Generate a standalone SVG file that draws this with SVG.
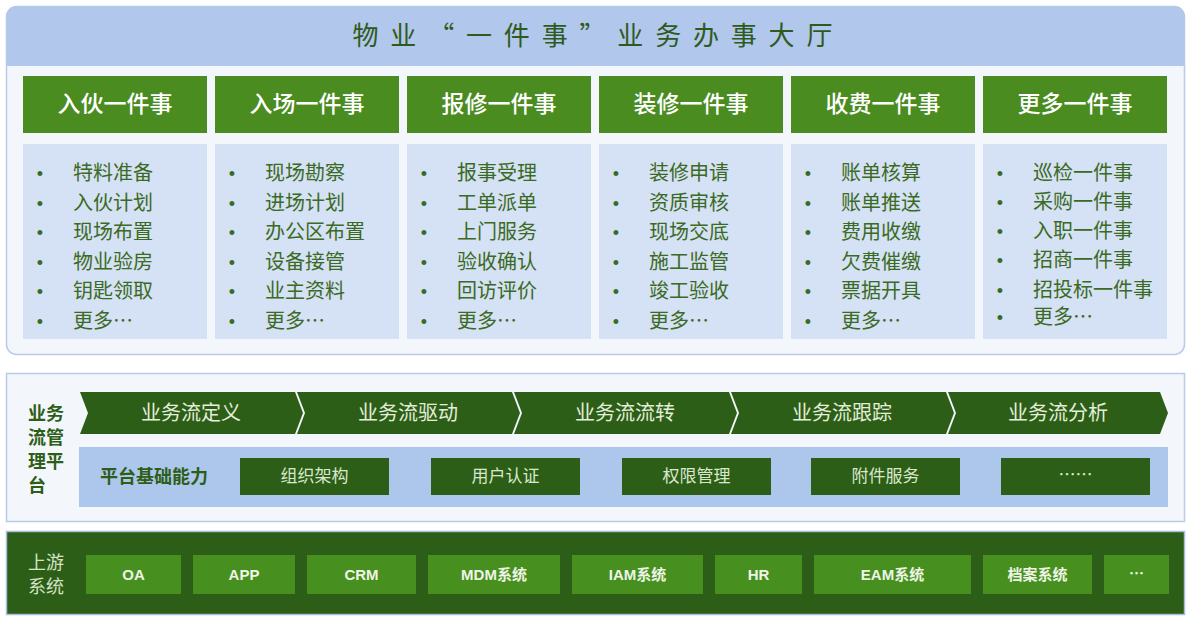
<svg xmlns="http://www.w3.org/2000/svg" width="1192" height="625" viewBox="0 0 1192 625">
<style>
.cjk{font-family:"Noto Sans CJK SC","Liberation Sans",sans-serif}
.lat{font-family:"Liberation Sans","Noto Sans CJK SC",sans-serif}
.hdr{fill:#4b8c21}
.hdrt{fill:#ffffff;font-size:23px;font-weight:500;text-anchor:middle}
.body{fill:#d5e1f5}
.li{fill:#3b6a22;font-size:20px}
.bul{fill:#3b6a22;font-size:18px;text-anchor:middle;font-family:"Liberation Sans",sans-serif}
.chev{fill:#2d5e17}
.chevt{fill:#e3eedb;font-size:20px;text-anchor:middle}
.dk{fill:#2d5e17}
.dkt{fill:#d9e8cc;font-size:17px;text-anchor:middle}
.lg{fill:#47901f}
.lgt{fill:#eef5e6;font-size:15px;font-weight:bold;text-anchor:middle}
.lbl{fill:#2d5e17;font-size:18px;font-weight:bold}
</style>
<rect width="1192" height="625" fill="#ffffff"/>

<g id="hall">
  <rect x="6.5" y="6.5" width="1178" height="348" rx="10" fill="#f3f6fb" stroke="#b9cbe8" stroke-width="1.5"/>
  <path d="M6.5,66 V16.5 A10,10 0 0 1 16.5,6.5 H1174.5 A10,10 0 0 1 1184.5,16.5 V66 Z" fill="#b1c7eb"/>
  <text class="cjk" x="594" y="45" font-size="26" fill="#2f5a1e" text-anchor="middle" letter-spacing="3">物 业 “ 一 件 事 ” 业 务 办 事 大 厅</text>
</g>

<g id="col1">
  <rect class="hdr" x="23" y="76" width="184" height="57"/>
  <text class="cjk hdrt" x="115" y="112">入伙一件事</text>
  <rect class="body" x="23" y="144" width="184" height="195"/>
  <g class="cjk">
    <text class="bul" x="40" y="180">•</text><text class="li" x="73" y="180">特料准备</text>
    <text class="bul" x="40" y="210">•</text><text class="li" x="73" y="210">入伙计划</text>
    <text class="bul" x="40" y="239">•</text><text class="li" x="73" y="239">现场布置</text>
    <text class="bul" x="40" y="269">•</text><text class="li" x="73" y="269">物业验房</text>
    <text class="bul" x="40" y="298">•</text><text class="li" x="73" y="298">钥匙领取</text>
    <text class="bul" x="40" y="328">•</text><text class="li" x="73" y="328">更多…</text>
  </g>
</g>

<g id="col2">
  <rect class="hdr" x="215" y="76" width="184" height="57"/>
  <text class="cjk hdrt" x="307" y="112">入场一件事</text>
  <rect class="body" x="215" y="144" width="184" height="195"/>
  <g class="cjk">
    <text class="bul" x="232" y="180">•</text><text class="li" x="265" y="180">现场勘察</text>
    <text class="bul" x="232" y="210">•</text><text class="li" x="265" y="210">进场计划</text>
    <text class="bul" x="232" y="239">•</text><text class="li" x="265" y="239">办公区布置</text>
    <text class="bul" x="232" y="269">•</text><text class="li" x="265" y="269">设备接管</text>
    <text class="bul" x="232" y="298">•</text><text class="li" x="265" y="298">业主资料</text>
    <text class="bul" x="232" y="328">•</text><text class="li" x="265" y="328">更多…</text>
  </g>
</g>

<g id="col3">
  <rect class="hdr" x="407" y="76" width="184" height="57"/>
  <text class="cjk hdrt" x="499" y="112">报修一件事</text>
  <rect class="body" x="407" y="144" width="184" height="195"/>
  <g class="cjk">
    <text class="bul" x="424" y="180">•</text><text class="li" x="457" y="180">报事受理</text>
    <text class="bul" x="424" y="210">•</text><text class="li" x="457" y="210">工单派单</text>
    <text class="bul" x="424" y="239">•</text><text class="li" x="457" y="239">上门服务</text>
    <text class="bul" x="424" y="269">•</text><text class="li" x="457" y="269">验收确认</text>
    <text class="bul" x="424" y="298">•</text><text class="li" x="457" y="298">回访评价</text>
    <text class="bul" x="424" y="328">•</text><text class="li" x="457" y="328">更多…</text>
  </g>
</g>

<g id="col4">
  <rect class="hdr" x="599" y="76" width="184" height="57"/>
  <text class="cjk hdrt" x="691" y="112">装修一件事</text>
  <rect class="body" x="599" y="144" width="184" height="195"/>
  <g class="cjk">
    <text class="bul" x="616" y="180">•</text><text class="li" x="649" y="180">装修申请</text>
    <text class="bul" x="616" y="210">•</text><text class="li" x="649" y="210">资质审核</text>
    <text class="bul" x="616" y="239">•</text><text class="li" x="649" y="239">现场交底</text>
    <text class="bul" x="616" y="269">•</text><text class="li" x="649" y="269">施工监管</text>
    <text class="bul" x="616" y="298">•</text><text class="li" x="649" y="298">竣工验收</text>
    <text class="bul" x="616" y="328">•</text><text class="li" x="649" y="328">更多…</text>
  </g>
</g>

<g id="col5">
  <rect class="hdr" x="791" y="76" width="184" height="57"/>
  <text class="cjk hdrt" x="883" y="112">收费一件事</text>
  <rect class="body" x="791" y="144" width="184" height="195"/>
  <g class="cjk">
    <text class="bul" x="808" y="180">•</text><text class="li" x="841" y="180">账单核算</text>
    <text class="bul" x="808" y="210">•</text><text class="li" x="841" y="210">账单推送</text>
    <text class="bul" x="808" y="239">•</text><text class="li" x="841" y="239">费用收缴</text>
    <text class="bul" x="808" y="269">•</text><text class="li" x="841" y="269">欠费催缴</text>
    <text class="bul" x="808" y="298">•</text><text class="li" x="841" y="298">票据开具</text>
    <text class="bul" x="808" y="328">•</text><text class="li" x="841" y="328">更多…</text>
  </g>
</g>

<g id="col6">
  <rect class="hdr" x="983" y="76" width="184" height="57"/>
  <text class="cjk hdrt" x="1075" y="112">更多一件事</text>
  <rect class="body" x="983" y="144" width="184" height="195"/>
  <g class="cjk">
    <text class="bul" x="1000" y="180">•</text><text class="li" x="1033" y="180">巡检一件事</text>
    <text class="bul" x="1000" y="209">•</text><text class="li" x="1033" y="209">采购一件事</text>
    <text class="bul" x="1000" y="238">•</text><text class="li" x="1033" y="238">入职一件事</text>
    <text class="bul" x="1000" y="267">•</text><text class="li" x="1033" y="267">招商一件事</text>
    <text class="bul" x="1000" y="297">•</text><text class="li" x="1033" y="297" font-size="19">招投标一件事</text>
    <text class="bul" x="1000" y="324">•</text><text class="li" x="1033" y="324">更多…</text>
  </g>
</g>

<g id="platform">
  <rect x="6.5" y="373.5" width="1178" height="148" fill="#f3f6fb" stroke="#b9cbe8" stroke-width="1.5"/>
  <g class="cjk">
    <text class="lbl" x="28" y="420" font-size="19">业务</text>
    <text class="lbl" x="28" y="444" font-size="19">流管</text>
    <text class="lbl" x="28" y="468" font-size="19">理平</text>
    <text class="lbl" x="28" y="492" font-size="19">台</text>
  </g>
</g>

<g id="flow">
  <g id="flow1"><polygon class="chev" points="80,392 295,392 303,413 295,434 80,434 88,413"/><text class="cjk chevt" x="191" y="420">业务流定义</text></g>
  <g id="flow2"><polygon class="chev" points="297,392 512,392 520,413 512,434 297,434 305,413"/><text class="cjk chevt" x="408" y="420">业务流驱动</text></g>
  <g id="flow3"><polygon class="chev" points="514,392 729,392 737,413 729,434 514,434 522,413"/><text class="cjk chevt" x="625" y="420">业务流流转</text></g>
  <g id="flow4"><polygon class="chev" points="731,392 946,392 954,413 946,434 731,434 739,413"/><text class="cjk chevt" x="842" y="420">业务流跟踪</text></g>
  <g id="flow5"><polygon class="chev" points="948,392 1160,392 1168,413 1160,434 948,434 956,413"/><text class="cjk chevt" x="1058" y="420">业务流分析</text></g>
</g>

<g id="base">
  <rect x="79" y="447" width="1089" height="60" fill="#adc6ec"/>
  <text class="cjk lbl" x="100" y="483">平台基础能力</text>
  <g id="base1"><rect class="dk" x="240" y="458" width="149" height="37"/><text class="cjk dkt" x="314.5" y="482">组织架构</text></g>
  <g id="base2"><rect class="dk" x="431" y="458" width="149" height="37"/><text class="cjk dkt" x="505.5" y="482">用户认证</text></g>
  <g id="base3"><rect class="dk" x="622" y="458" width="149" height="37"/><text class="cjk dkt" x="696.5" y="482">权限管理</text></g>
  <g id="base4"><rect class="dk" x="811" y="458" width="149" height="37"/><text class="cjk dkt" x="885.5" y="482">附件服务</text></g>
  <g id="base5"><rect class="dk" x="1001" y="458" width="149" height="37"/><text class="cjk dkt" x="1075.5" y="481">……</text></g>
</g>

<g id="upstream">
  <rect x="6.5" y="531.5" width="1178" height="83" fill="#2d5e17" stroke="#a9bedf" stroke-width="1.5"/>
  <text class="cjk" x="28" y="569" font-size="18" fill="#d3e4c4">上游</text>
  <text class="cjk" x="28" y="593" font-size="18" fill="#d3e4c4">系统</text>
  <g id="up1"><rect class="lg" x="86" y="555" width="95" height="39"/><text class="lat lgt" x="133.5" y="580">OA</text></g>
  <g id="up2"><rect class="lg" x="193" y="555" width="102" height="39"/><text class="lat lgt" x="244" y="580">APP</text></g>
  <g id="up3"><rect class="lg" x="307" y="555" width="109" height="39"/><text class="lat lgt" x="361.5" y="580">CRM</text></g>
  <g id="up4"><rect class="lg" x="428" y="555" width="132" height="39"/><text class="lat lgt" x="494" y="580">MDM系统</text></g>
  <g id="up5"><rect class="lg" x="572" y="555" width="131" height="39"/><text class="lat lgt" x="637.5" y="580">IAM系统</text></g>
  <g id="up6"><rect class="lg" x="715" y="555" width="87" height="39"/><text class="lat lgt" x="758.5" y="580">HR</text></g>
  <g id="up7"><rect class="lg" x="814" y="555" width="157" height="39"/><text class="lat lgt" x="892.5" y="580">EAM系统</text></g>
  <g id="up8"><rect class="lg" x="983" y="555" width="109" height="39"/><text class="cjk lgt" x="1037.5" y="580">档案系统</text></g>
  <g id="up9"><rect class="lg" x="1104" y="555" width="65" height="39"/><text class="cjk lgt" x="1136.5" y="579">…</text></g>
</g>
</svg>
